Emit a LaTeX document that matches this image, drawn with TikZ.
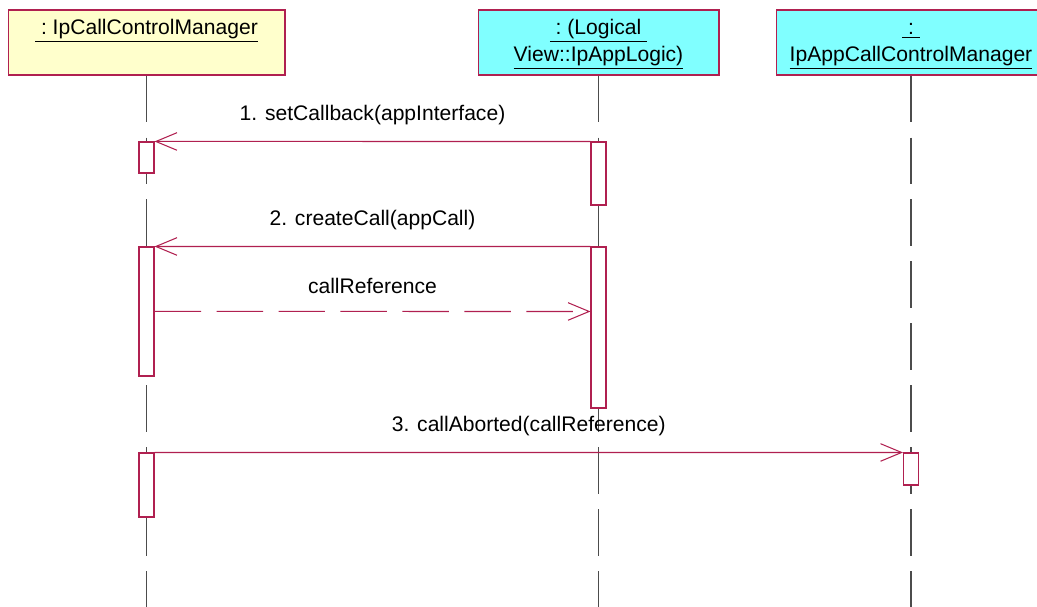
\documentclass[tikz,border=0pt]{standalone}
\usepackage{fontspec}
\setmainfont{Liberation Sans}
\usepackage{tikz}
\usetikzlibrary{arrows.meta,positioning,calc}
\definecolor{umlred}{RGB}{176,32,80}
\definecolor{objyellow}{RGB}{255,255,204}
\definecolor{objcyan}{RGB}{128,255,255}
\tikzset{
  Obox/.style={draw=umlred, line width=0.6pt, align=center, inner sep=0pt,
               minimum height=1.3cm, font=\fontsize{12}{15.3}\selectfont},
  Act/.style={draw=umlred, fill=white, line width=0.6pt, minimum width=0.3cm,
              inner sep=0pt},
  Life/.style={draw=black!70, line width=0.6pt, dash pattern=on 0.93cm off 0.31cm},
  Msg/.style={draw=umlred, line width=0.6pt, -{Straight Barb[length=12pt,width=10pt]}},
  Mlbl/.style={midway, yshift=0.52cm, font=\fontsize{12}{15.3}\selectfont}
}

\begin{document}
\begin{tikzpicture}[x=0.02cm, y=-0.02cm]
  \useasboundingbox (0,0) rectangle (1037,607);

  \node[Obox, fill=objyellow, minimum width=5.54cm] (icm) at (146.5,42.5)
    {\strut\underline{\ :\ IpCallControlManager}\\ \strut};
  \node[Obox, fill=objcyan, minimum width=4.82cm] (logic) at (598.5,42.5)
    {\strut\underline{\ :\ (Logical\ }\\ \strut\underline{View::IpAppLogic)}};
  \node[Obox, fill=objcyan, minimum width=5.4cm] (appcm) at (911,42.5)
    {\strut\underline{\ :\ }\\ \strut\underline{IpAppCallControlManager}};

  \coordinate (bot) at (0,607);
  \draw[Life] (icm.south) -- (icm.south |- bot);
  \draw[Life] (logic.south) -- (logic.south |- bot);
  \draw[Life] (appcm.south) -- (appcm.south |- bot);

  \node[Act, minimum height=0.62cm] (a1) at (146.5,157.5) {};
  \node[Act, minimum height=2.58cm] (a2) at (146.5,311.5) {};
  \node[Act, minimum height=1.28cm] (a3) at (146.5,485) {};
  \node[Act, minimum height=1.26cm] (l1) at (598.5,173.5) {};
  \node[Act, minimum height=3.22cm] (l2) at (598.5,327.5) {};
  \node[Act, minimum height=0.64cm] (p1) at (911,469) {};

  \draw[Msg] (l1.north west) -- node[Mlbl] {1. setCallback(appInterface)} (a1.north east);
  \draw[Msg] (l2.north west) -- node[Mlbl] {2. createCall(appCall)} (a2.north east);
  \draw[Msg, dash pattern=on 0.93cm off 0.31cm] ([yshift=-1.3cm]a2.north east)
    -- node[Mlbl] {callReference} ([yshift=-1.3cm]l2.north west);
  \draw[Msg] (a3.north east) -- node[Mlbl] {3. callAborted(callReference)} (p1.north west);
\end{tikzpicture}
\end{document}
